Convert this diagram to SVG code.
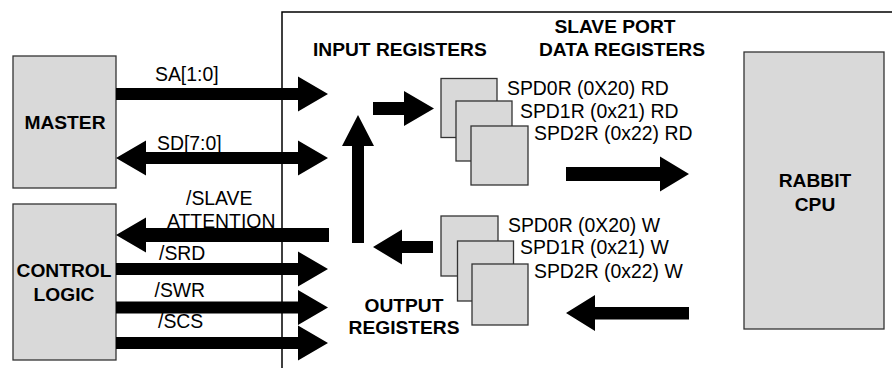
<svg xmlns="http://www.w3.org/2000/svg" width="892" height="368" viewBox="0 0 892 368">
<style>
.box{fill:#d9d9d9;stroke:#333;stroke-width:1.3}
.reg{fill:#d9d9d9;stroke:#333;stroke-width:1.3}
.t{font-family:"Liberation Sans",Arial,sans-serif;font-size:19.4px;fill:#000}
.b{font-family:"Liberation Sans",Arial,sans-serif;font-size:19.2px;font-weight:bold;fill:#000}
.arr{fill:#000;stroke:none}
</style>
<rect width="892" height="368" fill="#fff"/>
<path d="M282,368 V12 H892" fill="none" stroke="#000" stroke-width="1.5"/>

<g id="master"><rect class="box" x="13" y="56" width="103" height="132"/><text class="b" x="65" y="129" text-anchor="middle">MASTER</text></g>
<g id="control-logic"><rect class="box" x="13" y="204" width="103" height="156"/><text class="b" x="64" y="277" text-anchor="middle">CONTROL</text><text class="b" x="64" y="301" text-anchor="middle">LOGIC</text></g>
<g id="rabbit-cpu"><rect class="box" x="744" y="52" width="140" height="277"/><text class="b" x="815" y="187" text-anchor="middle">RABBIT</text><text class="b" x="815" y="211" text-anchor="middle">CPU</text></g>

<g id="input-registers">
<text class="b" x="313" y="56">INPUT REGISTERS</text>
<rect class="reg" x="441" y="78.5" width="56" height="59"/>
<rect class="reg" x="456" y="101" width="56" height="60"/>
<rect class="reg" x="471" y="126" width="57" height="59"/>
<text class="t" x="507" y="95">SPD0R (0X20) RD</text>
<text class="t" x="520" y="117.5">SPD1R (0x21) RD</text>
<text class="t" x="534" y="140">SPD2R (0x22) RD</text>
</g>
<g id="slave-port-data-registers">
<text class="b" x="615" y="33" text-anchor="middle">SLAVE PORT</text>
<text class="b" x="622" y="56" text-anchor="middle">DATA REGISTERS</text>
</g>
<g id="output-registers">
<rect class="reg" x="441" y="216" width="57" height="60"/>
<rect class="reg" x="457.5" y="241" width="56" height="60"/>
<rect class="reg" x="472" y="264" width="56" height="61"/>
<text class="t" x="508" y="231.5">SPD0R (0X20) W</text>
<text class="t" x="520" y="254">SPD1R (0x21) W</text>
<text class="t" x="534" y="278">SPD2R (0x22) W</text>
<text class="b" x="404" y="311.5" text-anchor="middle">OUTPUT</text>
<text class="b" x="404" y="334" text-anchor="middle">REGISTERS</text>
</g>

<g id="connectors">
<polygon class="arr" points="116,88 298,88 298,76.5 328,94 298,111.5 298,100 116,100"/>
<polygon class="arr" points="116,158 146,140.5 146,152 298,152 298,140.5 328,158 298,175.5 298,164 146,164 146,175.5"/>
<polygon class="arr" points="116,235 146,217.5 146,228 329,228 329,242 146,242 146,252.5"/>
<polygon class="arr" points="116,263 298,263 298,251.5 328,269 298,286.5 298,275 116,275"/>
<polygon class="arr" points="116,301.5 298,301.5 298,290 328,307.5 298,325 298,313.5 116,313.5"/>
<polygon class="arr" points="116,337 298,337 298,325.5 328,343 298,360.5 298,349 116,349"/>
<polygon class="arr" points="352,243 352,146 342,146 358,115 374,146 364,146 364,243"/>
<polygon class="arr" points="373,102 404,102 404,91 434,108.5 404,126 404,115 373,115"/>
<polygon class="arr" points="566,167 660,167 660,156.5 689,174 660,191.5 660,181 566,181"/>
<polygon class="arr" points="373,247 402,229.5 402,241 433,241 433,253 402,253 402,264.5"/>
<polygon class="arr" points="566,313 595,295 595,307 689,307 689,319.5 595,319.5 595,331"/>
<text class="t" x="155" y="81">SA[1:0]</text>
<text class="t" x="157" y="150">SD[7:0]</text>
<text class="t" x="186" y="205">/SLAVE</text>
<text class="t" x="167" y="228">ATTENTION</text>
<text class="t" x="159" y="260">/SRD</text>
<text class="t" x="154.5" y="297">/SWR</text>
<text class="t" x="158" y="328">/SCS</text>
</g>
</svg>
